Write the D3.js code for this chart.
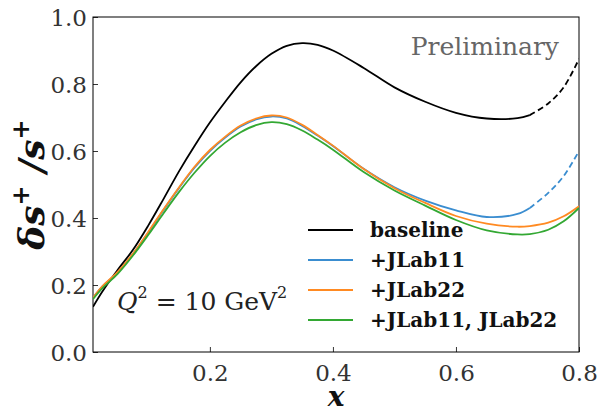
<!DOCTYPE html>
<html>
<head>
<meta charset="utf-8">
<script src="https://cdn.jsdelivr.net/npm/d3@7"></script>
<style>
  body { margin: 0; background: #fff; }
  svg text { font-family: "DejaVu Serif", "Liberation Serif", serif; }
</style>
</head>
<body>
<svg id="chart" width="600" height="415"></svg>
<script>
// x grid and the four curves
const xs = [0.01, 0.025, 0.05, 0.075, 0.1, 0.125, 0.15, 0.175, 0.2, 0.225, 0.25, 0.275, 0.3,
  0.325, 0.35, 0.375, 0.4, 0.45, 0.5, 0.55, 0.6, 0.65, 0.7, 0.72, 0.75, 0.775, 0.8];
const baseline = [0.135, 0.18, 0.245, 0.305, 0.378, 0.458, 0.54, 0.615, 0.685, 0.747, 0.805, 0.853, 0.89,
  0.914, 0.922, 0.917, 0.90, 0.848, 0.79, 0.747, 0.714, 0.697, 0.698, 0.707, 0.742, 0.79, 0.875];
const jlab11 = [0.162, 0.195, 0.238, 0.293, 0.357, 0.425, 0.49, 0.55, 0.60, 0.64, 0.673, 0.694, 0.703,
  0.697, 0.675, 0.646, 0.615, 0.547, 0.492, 0.452, 0.423, 0.403, 0.412, 0.43, 0.475, 0.525, 0.60];
const jlab22 = [0.162, 0.196, 0.239, 0.294, 0.359, 0.427, 0.492, 0.553, 0.603, 0.643, 0.676, 0.697, 0.706,
  0.7, 0.678, 0.648, 0.616, 0.546, 0.489, 0.445, 0.406, 0.383, 0.374, 0.376, 0.386, 0.405, 0.435];
const jlabBoth = [0.158, 0.19, 0.233, 0.288, 0.35, 0.415, 0.478, 0.535, 0.585, 0.625, 0.656, 0.677, 0.686,
  0.68, 0.661, 0.634, 0.604, 0.537, 0.482, 0.437, 0.394, 0.363, 0.351, 0.352, 0.365, 0.39, 0.43];

const seriesNames = ["baseline", "+JLab11", "+JLab22", "+JLab11, JLab22"];
const seriesValues = [baseline, jlab11, jlab22, jlabBoth];
const seriesColors = ["#000000", "#3a8dd0", "#ff8a22", "#33a833"];
const seriesDashedTail = [true, true, false, false];
const dashFrom = 0.72;

const xTicks = [0.2, 0.4, 0.6, 0.8];
const yTicks = [0.0, 0.2, 0.4, 0.6, 0.8, 1.0];

const margin = { top: 17, right: 21, bottom: 63, left: 93 };
const width = 600, height = 415;
const serif = "'DejaVu Serif', 'Liberation Serif', serif";

const svg = d3.select("#chart");

const x = d3.scaleLinear().domain([0.01, 0.8]).range([margin.left, width - margin.right]);
const y = d3.scaleLinear().domain([0, 1]).range([height - margin.bottom, margin.top]);

svg.append("defs").append("clipPath").attr("id", "plot-clip")
  .append("rect")
  .attr("x", margin.left).attr("y", margin.top)
  .attr("width", x.range()[1] - margin.left)
  .attr("height", y.range()[0] - margin.top);

// axes with inward ticks
const xAxis = svg.append("g")
  .attr("transform", `translate(0,${y(0)})`)
  .call(d3.axisBottom(x).tickValues(xTicks).tickSizeInner(-5).tickSizeOuter(0).tickPadding(12)
    .tickFormat(d3.format(".1f")));
const yAxis = svg.append("g")
  .attr("transform", `translate(${margin.left},0)`)
  .call(d3.axisLeft(y).tickValues(yTicks).tickSizeInner(-5).tickSizeOuter(0).tickPadding(6)
    .tickFormat(d3.format(".1f")));

[xAxis, yAxis].forEach((g) => {
  g.attr("font-family", serif);
  g.select(".domain").remove();
  g.selectAll("line").attr("stroke", "#000").attr("stroke-width", 0.8);
  g.selectAll("text").attr("font-size", 23).attr("fill", "#333");
});
xAxis.selectAll("text").attr("dy", "0.72em");
yAxis.selectAll("text").attr("dy", "0.36em");

// frame
svg.append("rect")
  .attr("x", margin.left).attr("y", margin.top)
  .attr("width", x.range()[1] - margin.left)
  .attr("height", y.range()[0] - margin.top)
  .attr("fill", "none").attr("stroke", "#000").attr("stroke-width", 1);

const line = d3.line()
  .x((d) => x(d[0]))
  .y((d) => y(d[1]))
  .curve(d3.curveCatmullRom.alpha(0.5));

const plot = svg.append("g").attr("clip-path", "url(#plot-clip)");

seriesValues.forEach((vals, i) => {
  const pts = xs.map((xv, j) => [xv, vals[j]]);
  if (seriesDashedTail[i]) {
    const solid = pts.filter((p) => p[0] <= dashFrom);
    const dashed = pts.filter((p) => p[0] >= dashFrom);
    plot.append("path").attr("d", line(solid))
      .attr("fill", "none").attr("stroke", seriesColors[i]).attr("stroke-width", 1.8);
    plot.append("path").attr("d", line(dashed))
      .attr("fill", "none").attr("stroke", seriesColors[i]).attr("stroke-width", 1.8)
      .attr("stroke-dasharray", "6,3.5");
  } else {
    plot.append("path").attr("d", line(pts))
      .attr("fill", "none").attr("stroke", seriesColors[i]).attr("stroke-width", 1.8);
  }
});

// legend
const legend = svg.append("g").attr("transform", "translate(308,230)");
seriesNames.forEach((name, i) => {
  const row = legend.append("g").attr("transform", `translate(0,${i * 30})`);
  row.append("line").attr("x1", 0).attr("x2", 45).attr("y1", 0).attr("y2", 0)
    .attr("stroke", seriesColors[i]).attr("stroke-width", 1.8);
  row.append("text").attr("x", 62).attr("y", 0).attr("dy", "0.36em")
    .attr("font-family", serif)
    .attr("font-size", 20).attr("font-weight", "bold").attr("fill", "#111")
    .text(name);
});

// Q^2 annotation
const q = svg.append("text").attr("x", 117).attr("y", 310)
  .attr("font-family", serif).attr("font-size", 25).attr("fill", "#222");
q.append("tspan").attr("font-style", "italic").text("Q");
q.append("tspan").attr("font-size", 16).attr("dy", -12).text("2");
q.append("tspan").attr("dy", 12).text(" = 10 GeV");
q.append("tspan").attr("font-size", 16).attr("dy", -12).text("2");

// Preliminary watermark
svg.append("text").attr("x", 559).attr("y", 55).attr("text-anchor", "end")
  .attr("font-family", serif)
  .attr("font-size", 25).attr("fill", "#666").text("Preliminary");

// axis titles
svg.append("text")
  .attr("x", (margin.left + x.range()[1]) / 2).attr("y", 406)
  .attr("text-anchor", "middle").attr("font-family", serif).attr("font-size", 28)
  .attr("font-weight", "bold").attr("font-style", "italic").attr("fill", "#111")
  .text("x");

const yl = svg.append("text")
  .attr("transform", `translate(44,${(margin.top + y(0)) / 2}) rotate(-90)`)
  .attr("text-anchor", "middle").attr("font-family", serif).attr("font-size", 36)
  .attr("font-weight", "bold").attr("font-style", "italic").attr("fill", "#111");
yl.append("tspan").text("δs");
yl.append("tspan").attr("font-size", 24).attr("dy", -15).text("+");
yl.append("tspan").attr("dy", 15).text(" /s");
yl.append("tspan").attr("font-size", 24).attr("dy", -15).text("+");
</script>
</body>
</html>
